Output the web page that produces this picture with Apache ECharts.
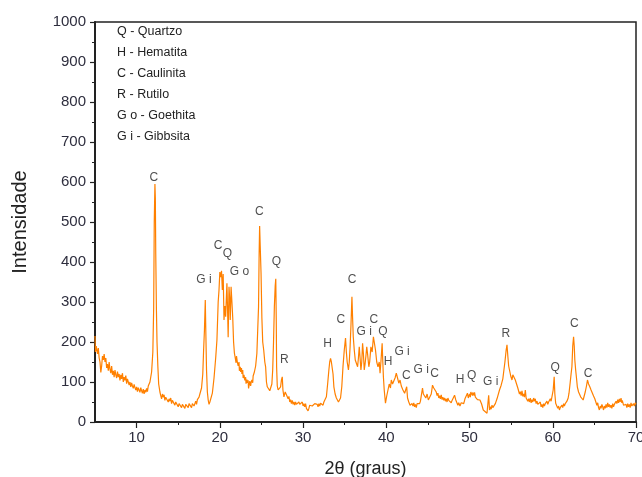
<!DOCTYPE html>
<html lang="pt">
<head>
  <meta charset="UTF-8">
  <title>Difratograma</title>
  <script src="https://cdn.jsdelivr.net/npm/echarts@6/dist/echarts.min.js"></script>
  <style>
    html, body { margin: 0; padding: 0; background: #fff; }
  </style>
</head>
<body>
<div id="main" style="width: 642px;height:477px;"></div>
<script>
  var pattern = [
    [5.0,215],[5.05,175],[5.15,190],[5.3,170],[5.4,185],[5.5,160],[5.6,150],[5.7,124],[5.8,140],[5.9,165],
    [6.0,155],[6.1,170],[6.2,150],[6.3,160],[6.4,135],[6.5,145],[6.6,128],[6.7,150],[6.8,132],[6.9,122],
    [7.0,140],[7.1,118],[7.2,128],[7.3,112],[7.4,130],[7.5,118],[7.6,110],[7.7,126],[7.8,112],[7.9,120],
    [8.0,104],[8.1,118],[8.2,108],[8.3,122],[8.4,100],[8.5,112],[8.6,104],[8.7,116],[8.8,96],[8.9,108],
    [9.0,100],[9.1,92],[9.2,100],[9.3,88],[9.4,98],[9.5,90],[9.6,84],[9.7,94],[9.8,86],[9.9,80],
    [10.0,88],[10.1,76],[10.2,86],[10.3,80],[10.4,74],[10.5,86],[10.6,78],[10.7,72],[10.8,82],[10.9,70],
    [11.0,80],[11.1,74],[11.2,84],[11.3,76],[11.4,90],[11.5,86],
    [11.6,100],[11.8,125],[11.95,175],[12.05,285],[12.12,500],[12.2,595],[12.25,560],[12.3,420],[12.38,280],[12.45,200],
    [12.55,140],[12.65,95],[12.8,75],[12.9,66],[13.0,58],[13.1,70],[13.2,62],[13.3,68],[13.4,54],[13.5,62],
    [13.6,58],[13.7,66],[13.8,50],[13.9,58],[14.0,52],[14.1,60],[14.2,46],[14.3,54],[14.4,50],[14.5,58],
    [14.6,42],[14.7,50],[14.8,46],[14.9,52],[15.0,38],[15.1,46],[15.2,42],[15.3,50],[15.4,36],[15.5,44],
    [15.6,40],[15.7,48],[15.8,34],[15.9,44],[16.0,40],[16.1,48],[16.2,36],[16.3,46],[16.4,42],[16.5,50],
    [16.6,36],[16.7,46],[16.8,50],[16.9,40],[17.0,46],[17.1,52],[17.2,44],[17.3,56],[17.4,52],[17.5,62],
    [17.6,70],[17.8,85],[17.95,120],[18.05,180],
    [18.15,230],[18.25,305],[18.32,220],[18.4,130],[18.5,75],[18.6,55],[18.7,44],[18.8,50],[18.9,46],[19.0,55],[19.1,72],[19.3,110],
    [19.5,160],[19.65,205],[19.8,300],[19.9,330],[20.0,375],[20.1,362],[20.2,378],[20.3,330],[20.4,370],[20.5,255],
    [20.6,290],[20.7,263],[20.8,320],[20.85,347],[20.95,260],[21.0,212],[21.1,338],[21.2,300],[21.25,255],[21.35,338],
    [21.45,300],[21.55,260],[21.65,200],[21.75,172],[21.85,160],[21.95,148],[22.0,165],[22.1,150],[22.2,140],[22.3,150],[22.35,128],[22.45,138],[22.5,125],
    [22.6,135],[22.65,120],[22.75,130],[22.8,110],[22.9,118],[23.0,104],[23.1,112],[23.15,96],[23.25,106],[23.3,98],[23.4,104],[23.45,84],[23.55,96],[23.6,102],[23.7,90],[23.75,98],[23.85,105],[23.95,98],[24.0,115],
    [24.15,125],[24.3,140],[24.45,172],[24.55,230],[24.65,288],[24.72,420],[24.78,490],[24.85,440],[24.95,372],[25.05,260],
    [25.15,200],[25.27,180],[25.4,150],[25.5,138],[25.6,100],[25.7,88],[25.85,85],[26.0,78],[26.1,82],[26.25,95],
    [26.35,130],[26.45,200],[26.55,288],[26.65,340],[26.72,358],[26.78,250],[26.82,138],[26.9,90],[27.0,80],[27.15,85],
    [27.3,88],[27.4,105],[27.5,113],[27.58,80],[27.7,63],[27.85,75],[28.0,68],[28.1,72],[28.2,58],[28.3,64],[28.4,50],[28.5,56],
    [28.6,46],[28.7,54],[28.8,44],[28.9,50],[29.0,42],[29.1,50],[29.2,44],[29.3,48],[29.4,40],[29.5,50],[29.6,44],[29.7,48],[29.8,42],[29.9,50],
    [30.0,40],[30.1,46],[30.2,38],[30.3,46],[30.4,34],[30.5,38],[30.6,28],[30.7,34],[30.8,42],[30.9,38],
    [31.0,46],[31.1,40],[31.2,45],[31.3,38],[31.4,46],[31.5,42],[31.6,48],[31.7,44],[31.8,38],[31.9,46],
    [32.0,40],[32.1,47],[32.2,42],[32.3,48],[32.4,42],[32.5,50],
    [32.7,55],[32.8,63],[32.95,95],[33.1,130],[33.2,150],[33.3,159],[33.4,150],[33.5,147],[33.6,120],[33.7,88],
    [33.85,70],[34.0,60],[34.1,55],[34.25,50],[34.35,47],[34.5,60],[34.65,88],[34.8,140],[34.95,180],[35.1,210],
    [35.2,175],[35.3,150],[35.45,130],[35.55,150],[35.65,188],[35.75,240],[35.87,313],[35.95,260],[36.03,213],[36.15,180],
    [36.27,155],[36.4,150],[36.55,138],[36.65,160],[36.75,188],[36.85,160],[36.95,130],[37.05,150],[37.15,197],[37.25,170],
    [37.35,130],[37.45,145],[37.55,165],[37.65,188],[37.75,170],[37.9,138],[38.0,150],[38.15,188],[38.3,175],[38.45,213],
    [38.55,200],[38.7,180],[38.85,150],[39.0,138],[39.15,150],[39.25,122],[39.35,150],[39.5,197],[39.58,150],[39.65,113],
    [39.75,80],[39.9,47],[40.05,65],[40.2,80],[40.35,95],[40.5,85],[40.6,105],[40.75,95],[40.9,97],[41.05,110],
    [41.2,122],[41.35,110],[41.5,97],[41.65,105],[41.8,90],[42.0,80],[42.2,72],[42.35,70],[42.45,88],[42.55,60],
    [42.7,50],[42.85,42],[43.0,38],[43.1,46],[43.2,40],[43.3,48],[43.4,38],[43.5,44],[43.6,36],[43.7,46],[43.8,42],[43.9,50],[44.0,46],[44.1,52],[44.2,55],[44.35,85],
    [44.45,70],[44.6,65],[44.75,60],[44.9,70],[45.05,55],[45.2,58],[45.4,70],[45.55,92],[45.7,85],[45.85,80],
    [46.0,75],[46.1,66],[46.2,72],[46.3,60],[46.4,66],[46.5,58],[46.6,68],[46.7,56],[46.8,62],[46.9,54],[47.0,60],[47.1,52],[47.2,58],[47.3,50],[47.4,60],[47.5,54],[47.6,50],[47.7,56],[47.8,48],[47.9,54],
    [48.0,55],[48.2,67],[48.35,55],[48.5,50],[48.6,42],[48.7,48],[48.85,40],[49.0,48],[49.1,44],[49.2,52],[49.3,46],[49.45,58],[49.6,62],
    [49.75,72],[49.85,60],[50.0,70],[50.1,62],[50.15,75],[50.25,80],[50.35,66],[50.4,74],[50.55,66],[50.6,74],[50.7,62],[50.85,66],[50.95,56],[51.0,60],
    [51.25,55],[51.45,45],[51.65,30],[51.85,35],[52.1,22],[52.2,45],[52.3,67],[52.4,30],[52.5,38],[52.6,32],[52.7,42],[52.8,36],
    [53.0,40],[53.1,46],[53.2,50],[53.3,58],[53.4,62],[53.6,80],[53.8,92],[54.0,108],[54.1,113],[54.25,150],[54.4,180],[54.5,193],
    [54.6,165],[54.7,140],[54.8,130],[54.95,115],[55.1,105],[55.2,118],[55.35,120],[55.5,105],[55.65,95],[55.8,85],
    [55.9,80],[56.0,70],[56.1,76],[56.2,66],[56.3,78],[56.4,64],[56.5,70],[56.6,62],[56.7,80],[56.8,60],[56.9,62],[57.0,52],[57.1,58],[57.2,50],[57.3,60],[57.4,48],[57.5,56],[57.6,50],[57.7,60],[57.8,52],
    [57.9,58],[58.0,46],[58.1,52],[58.2,44],[58.3,48],[58.4,40],[58.5,50],[58.6,38],[58.7,44],[58.8,36],[58.9,46],[59.0,40],[59.1,46],[59.2,42],[59.3,52],[59.4,44],[59.5,50],[59.6,46],[59.7,58],[59.8,52],
    [59.9,63],[60.05,80],[60.17,113],[60.25,70],[60.35,47],[60.5,42],[60.6,34],[60.7,40],[60.8,30],[60.9,36],[61.0,32],[61.1,42],[61.2,36],[61.3,46],
    [61.4,40],[61.5,46],[61.7,52],[61.85,60],[61.95,72],[62.1,100],[62.2,120],[62.3,138],[62.4,190],[62.5,213],[62.58,190],
    [62.65,155],[62.75,130],[62.85,110],[62.95,88],[63.1,75],[63.25,70],[63.35,63],[63.5,58],[63.65,55],[63.75,55],
    [63.9,75],[64.05,90],[64.17,105],[64.3,95],[64.45,88],[64.6,80],[64.75,75],[64.9,65],[65.05,58],[65.2,55],
    [65.3,42],[65.4,48],[65.5,36],[65.6,30],[65.7,40],[65.8,34],[65.9,44],[66.0,38],[66.1,30],[66.2,40],[66.3,34],[66.4,44],[66.5,36],[66.6,48],[66.7,38],[66.8,44],[66.9,36],[67.0,42],[67.1,34],[67.2,46],
    [67.3,38],[67.4,44],[67.5,40],[67.6,52],[67.7,46],[67.8,56],[67.9,48],[68.0,58],[68.1,50],[68.2,60],[68.3,48],[68.35,54],[68.5,42],[68.6,46],[68.65,38],[68.8,44],[68.9,36],[69.0,46],
    [69.1,38],[69.2,44],[69.3,36],[69.4,48],[69.5,40],[69.6,36],[69.7,46],[69.8,40],[69.9,48],[70.0,44]
  ];

  // identificação dos picos: [2θ, altura do rótulo, fase]
  var peakLabels = [
    [12.07, 612, 'C'], [18.1, 357, 'G i'], [19.8, 442, 'C'], [20.9, 422, 'Q'], [22.35, 375, 'G o'],
    [24.75, 525, 'C'], [26.8, 402, 'Q'], [27.75, 155, 'R'], [32.95, 197, 'H'], [34.55, 257, 'C'],
    [35.9, 355, 'C'], [37.35, 225, 'G i'], [38.5, 257, 'C'], [39.6, 227, 'Q'], [40.2, 152, 'H'],
    [41.9, 177, 'G i'], [42.4, 117, 'C'], [44.2, 130, 'G i'], [45.8, 122, 'C'], [48.85, 107, 'H'],
    [50.25, 115, 'Q'], [52.55, 102, 'G i'], [54.35, 220, 'R'], [60.3, 137, 'Q'], [62.6, 247, 'C'],
    [64.25, 122, 'C']
  ];

  var phaseLegend = ['Q - Quartzo', 'H - Hematita', 'C - Caulinita', 'R - Rutilo', 'G o - Goethita', 'G i - Gibbsita'];

  var xMajorTicks = [10, 20, 30, 40, 50, 60, 70];
  var xMinorTicks = [15, 25, 35, 45, 55, 65];

  var myChart = echarts.init(document.getElementById('main'));

  var axisColor = '#222';
  var labelColor = '#2e2e3e';
  var fontFam = 'Liberation Sans, Arial, sans-serif';

  var legendTexts = phaseLegend.map(function (t, i) {
    return {
      type: 'text',
      left: 117,
      top: 25 + i * 21,
      style: {
        text: t,
        fill: '#222',
        font: '12.5px ' + fontFam
      }
    };
  });

  option = {
    animation: false,
    backgroundColor: '#fff',
    grid: {
      left: 95,
      top: 22,
      right: 6,
      bottom: 55,
      outerBoundsMode: 'none',
      containLabel: false,
      show: true,
      borderColor: axisColor,
      borderWidth: 1.5,
      backgroundColor: 'transparent'
    },
    graphic: legendTexts,
    xAxis: [{
      type: 'value',
      min: 5,
      max: 70,
      name: '2θ (graus)',
      nameLocation: 'middle',
      nameGap: 38,
      nameTextStyle: { fontSize: 18, color: '#222', fontFamily: fontFam },
      axisLine: { show: true, onZero: false, lineStyle: { color: axisColor, width: 2 } },
      axisTick: { show: true, length: 6, inside: false, customValues: xMajorTicks, lineStyle: { color: axisColor, width: 1.2 } },
      axisLabel: { customValues: xMajorTicks, margin: 8, fontSize: 15, color: labelColor, fontFamily: fontFam },
      splitLine: { show: false }
    }, {
      type: 'value',
      min: 5,
      max: 70,
      position: 'bottom',
      axisLine: { show: false },
      axisTick: { show: true, length: 3, customValues: xMinorTicks, lineStyle: { color: axisColor, width: 1 } },
      axisLabel: { show: false },
      splitLine: { show: false }
    }],
    yAxis: {
      type: 'value',
      min: 0,
      max: 1000,
      interval: 100,
      name: 'Intensidade',
      nameLocation: 'middle',
      nameGap: 65,
      nameTextStyle: { fontSize: 20, color: '#222', fontFamily: fontFam },
      axisLine: { show: true, lineStyle: { color: axisColor, width: 2 } },
      axisTick: { show: true, length: 5, lineStyle: { color: axisColor, width: 1.2 } },
      minorTick: { show: true, splitNumber: 2, length: 3, lineStyle: { color: axisColor, width: 1 } },
      axisLabel: {
        margin: 9, fontSize: 15, color: labelColor, fontFamily: fontFam,
        formatter: function (v) { return String(v); }
      },
      splitLine: { show: false },
      minorSplitLine: { show: false }
    },
    series: [{
      name: 'Intensidade',
      type: 'line',
      showSymbol: false,
      symbol: 'none',
      lineStyle: { color: '#ff8000', width: 1.2 },
      data: pattern,
      z: 2
    }, {
      name: 'Fases',
      type: 'scatter',
      symbolSize: 0,
      silent: true,
      label: {
        show: true,
        position: 'inside',
        formatter: function (p) { return p.value[2]; },
        fontSize: 12,
        color: '#222',
        fontFamily: fontFam
      },
      data: peakLabels,
      z: 3
    }]
  };

  myChart.setOption(option);
</script>
</body>
</html>
